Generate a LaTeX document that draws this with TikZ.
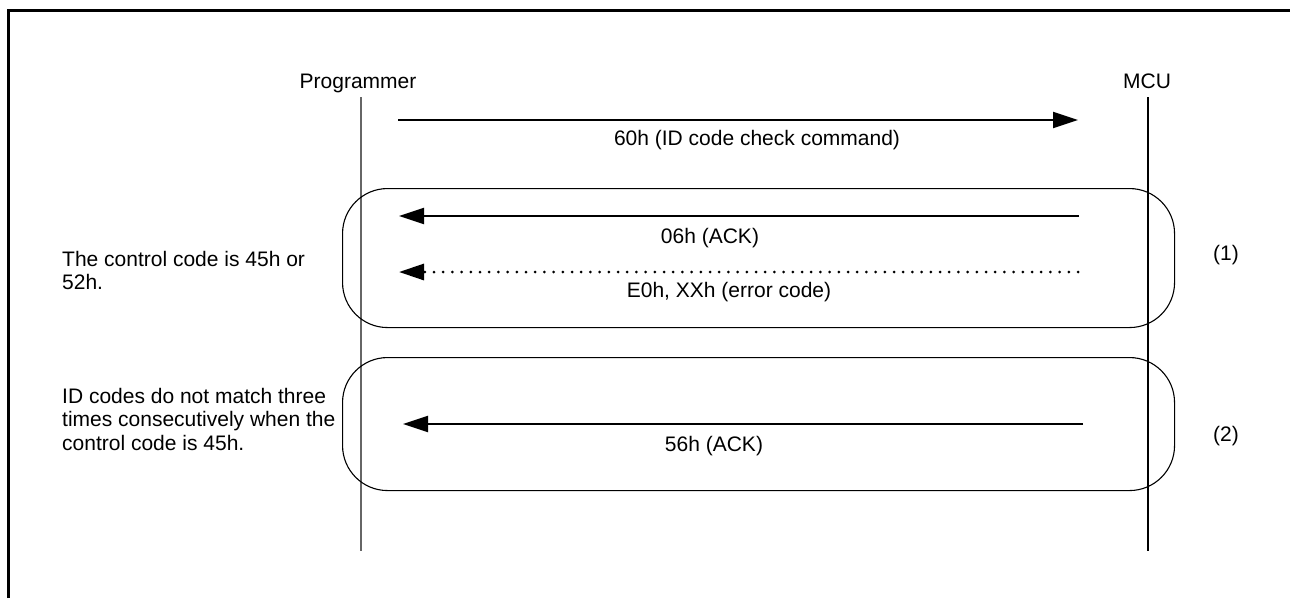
\documentclass[tikz,border=0pt]{standalone}
\usepackage{fontspec}
\setmainfont{Liberation Sans}
\usetikzlibrary{arrows.meta}
\begin{document}
\begin{tikzpicture}[x=1pt,y=-1pt,
  lbl/.style={font=\fontsize{21}{23.5}\selectfont,inner sep=0pt,anchor=base},
  note/.style={font=\fontsize{21}{23.5}\selectfont,inner sep=0pt,anchor=north west,align=left},
  msg/.style={line width=1.9pt,-{Triangle[length=25pt,width=16pt]}},
  dotmsg/.style={msg,line cap=round,dash pattern=on 0pt off 9.2pt,line width=3pt},
  lifeline/.style={line width=1.1pt},
  group/.style={draw,line width=1.1pt,rounded corners=45pt}]
\useasboundingbox (0,0) rectangle (1290,598);
% frame (top and left edges)
\draw[line width=3pt] (8.5,598) -- (8.5,10) -- (1290,10);
% participants
\node[lbl] (prog) at (358,88) {Programmer};
\node[lbl] (mcu) at (1147,88) {MCU};
\coordinate (pt) at (361,97);
\coordinate (pb) at (361,551);
\coordinate (mt) at (1148,97);
\coordinate (mb) at (1148,551);
\draw[lifeline,draw=black!60] (pt) -- (pb);
\draw[lifeline] (mt) -- (mb);
% groups
\node[group,minimum width=832pt,minimum height=139pt,anchor=north west] (g1) at (342,188) {};
\node[group,minimum width=832pt,minimum height=133pt,anchor=north west] (g2) at (342,357) {};
% messages
\coordinate (a1s) at (398,120);
\coordinate (a1e) at (1078,120);
\draw[msg] (a1s) -- (a1e);
\node[lbl] (l1) at (757,145) {60h (ID code check command)};
\coordinate (a2s) at (1079,216);
\coordinate (a2e) at (399,216);
\draw[msg] (a2s) -- (a2e);
\node[lbl] (l2) at (710,243) {06h (ACK)};
\coordinate (a3s) at (1078,272);
\coordinate (a3e) at (399,272);
\draw[dotmsg] (a3s) -- (a3e);
\node[lbl] (l3) at (729,297) {E0h, XXh (error code)};
\coordinate (a4s) at (1083,424);
\coordinate (a4e) at (403,424);
\draw[msg] (a4s) -- (a4e);
\node[lbl] (l4) at (714,451) {56h (ACK)};
% group labels
\node[lbl] (n1) at (1226,260) {(1)};
\node[lbl] (n2) at (1226,441) {(2)};
% conditions
\node[note] (c1) at (62,251) {The control code is 45h or\\52h.};
\node[note] (c2) at (62,388) {ID codes do not match three\\times consecutively when the\\control code is 45h.};
\end{tikzpicture}
\end{document}
